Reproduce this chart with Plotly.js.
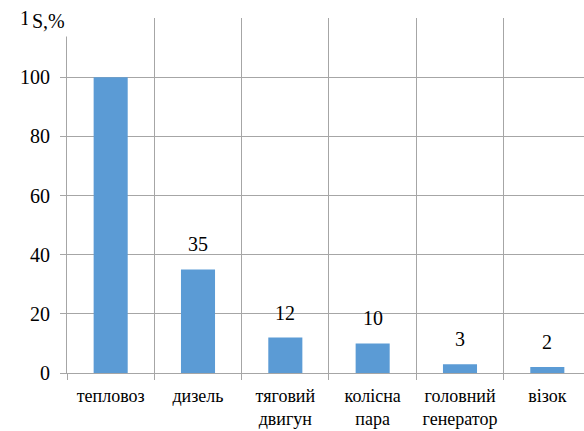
<!DOCTYPE html>
<html>
<head>
<meta charset="utf-8">
<script src="https://cdn.plot.ly/plotly-3.0.1.min.js"></script>
<style>html,body{margin:0;padding:0;background:#fff;}</style>
</head>
<body>
<div id="chart" style="width:584px;height:431px;"></div>
<script>
const categories = ['тепловоз', 'дизель', 'тяговий<br>двигун', 'колісна<br>пара', 'головний<br>генератор', 'візок'];
const values = [100, 35, 12, 10, 3, 2];
const labels = ['', '35', '12', '10', '3', '2'];
const yTicks = [0, 20, 40, 60, 80, 100, 120];
const yTitle = 'S,%';

const font = 'Liberation Serif, serif';
const grid = '#a6a6a6';

const trace = {
  type: 'bar',
  x: categories,
  y: values,
  marker: {color: '#5b9bd5'},
  width: 0.39,
  hoverinfo: 'none'
};

const annotations = categories.map((c, i) => ({
  x: c, y: values[i], xref: 'x', yref: 'y',
  text: labels[i], showarrow: false,
  yanchor: 'bottom', yshift: 12,
  font: {family: font, size: 20, color: '#000'}
})).filter(a => a.text !== '');

annotations.push({
  xref: 'paper', yref: 'paper', x: 0.006, y: 1.037,
  xanchor: 'right', yanchor: 'top',
  text: yTitle, showarrow: false,
  bgcolor: '#ffffff', borderpad: 4,
  font: {family: font, size: 20, color: '#000'}
});

const layout = {
  width: 584, height: 431,
  margin: {l: 67, r: 0, t: 18, b: 58},
  paper_bgcolor: '#fff', plot_bgcolor: '#fff',
  showlegend: false,
  font: {family: font, size: 18, color: '#000'},
  xaxis: {
    type: 'category',
    range: [-0.5, 5.42],
    tickson: 'boundaries',
    tickangle: 0,
    showgrid: true, gridcolor: grid, gridwidth: 1,
    ticks: 'outside', ticklen: 6, tickcolor: grid,
    showline: true, linecolor: grid, linewidth: 1,
    tickfont: {family: font, size: 18, color: '#000'},
    ticklabelstandoff: 6,
    fixedrange: true
  },
  yaxis: {
    range: [0, 120],
    tickvals: yTicks,
    showgrid: true, gridcolor: grid, gridwidth: 1,
    zeroline: false,
    ticks: 'outside', ticklen: 6, tickcolor: grid,
    showline: true, linecolor: grid, linewidth: 1,
    tickfont: {family: font, size: 20, color: '#000'},
    ticklabelstandoff: 6,
    fixedrange: true
  },
  annotations: annotations
};

Plotly.newPlot('chart', [trace], layout, {displayModeBar: false, staticPlot: true});
</script>
</body>
</html>
